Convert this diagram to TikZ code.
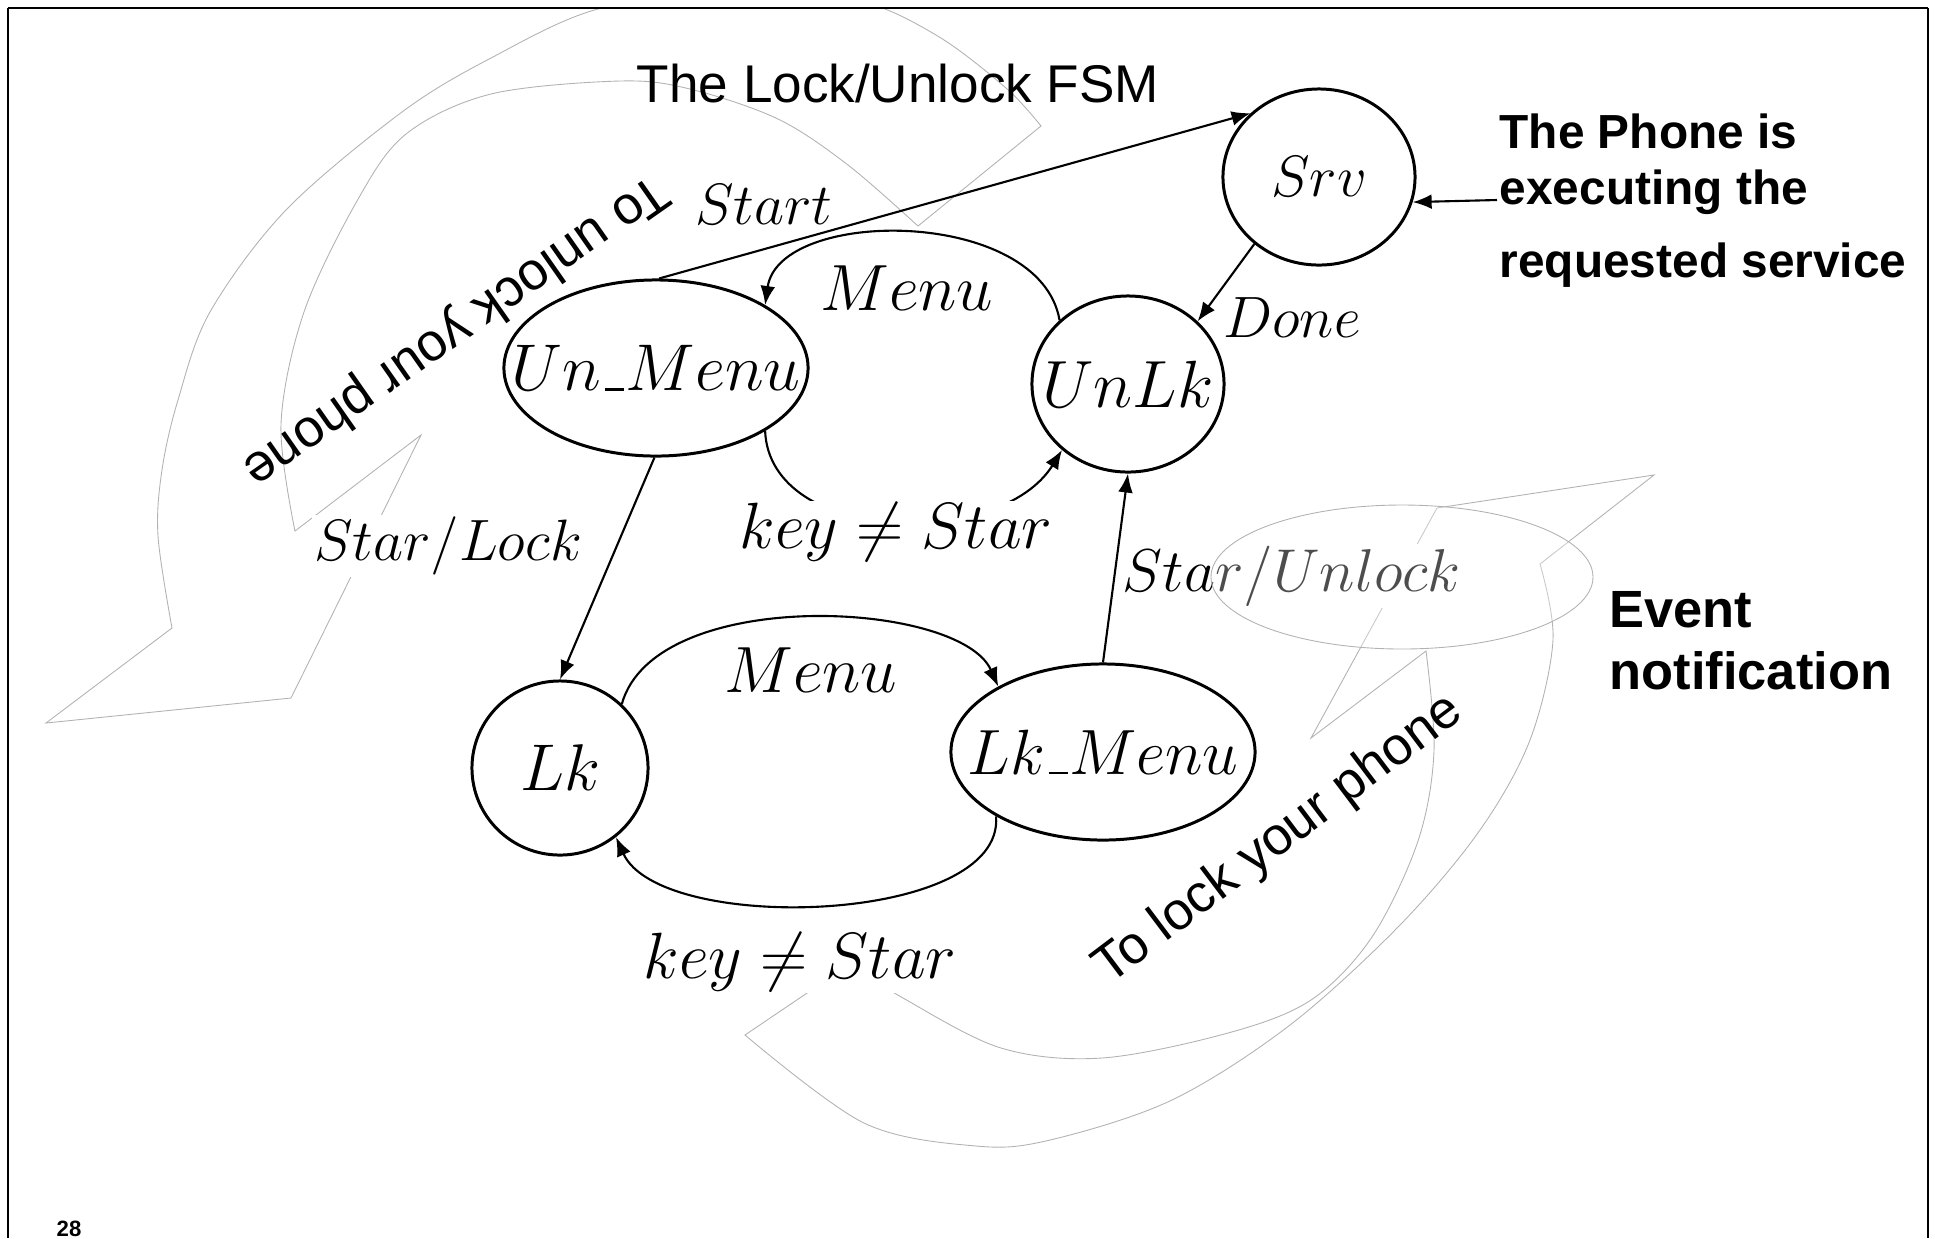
\documentclass[tikz,border=0pt]{standalone}
\usepackage{fix-cm}
\usepackage[no-math]{fontspec}
\setmainfont{Liberation Sans}
\usetikzlibrary{shapes.geometric,arrows.meta}
\newcommand{\usc}{\kern.06em\vbox{\hrule width.3em height .04em}\kern.02em}
\begin{document}
\begin{tikzpicture}[x=0.01cm,y=-0.01cm,
  st/.style={draw, line width=0.85pt, ellipse, inner sep=0pt},
  tr/.style={line width=0.6pt, -{Latex[length=5.4pt,width=4.2pt]}},
  lbl/.style={inner sep=0.5pt},
  wlbl/.style={inner sep=0.5pt, fill=white},
  deco/.style={draw=black!30, line width=0.25pt},
  fA/.style={font=\fontsize{16.6}{18}\selectfont},
  fB/.style={font=\fontsize{18.6}{20}\selectfont},
  sans/.style={font=\fontsize{15.1}{18}\selectfont},
  boldA/.style={font=\bfseries\fontsize{13.6}{16}\selectfont, anchor=base west, inner sep=0pt},
  boldB/.style={font=\bfseries\fontsize{14.9}{17}\selectfont, anchor=base west, inner sep=0pt},
  frame/.style={line width=0.45pt}
]
\useasboundingbox (0,0) rectangle (1935,1238);

% decorative curved arrows (light grey outlines)
\begin{scope}
\clip (8,9) rectangle (1928,1238);
\draw[deco] plot[smooth, tension=0.55] coordinates {(172,628) (158,536) (162,470) (178,400) (210,312) (286,210) (402,112) (491,58) (598,9) (730,-6) (855,0) (936,35) (1006,88) (1041,126)}
  -- (918,226)
  -- plot[smooth, tension=0.55] coordinates {(918,226) (848,165) (778,119) (690,89) (620,81) (491,94) (406,134) (357,201) (304,312) (281,424) (295,531)}
  -- (421,435) -- (291,698) -- (46,723) -- cycle;
\end{scope}
\draw[deco] plot[smooth, tension=0.55] coordinates {(1540,564) (1553,640) (1530,740) (1480,830) (1400,925) (1290,1025) (1172,1100) (1050,1140) (976,1146) (864,1123) (745,1035)}
  -- (850,964)
  -- plot[smooth, tension=0.55] coordinates {(850,964) (903,998) (1001,1048) (1102,1058) (1228,1033) (1311,1000) (1372,937) (1418,841) (1434,751) (1426,651)}
  -- (1311,738) -- (1437,508) -- (1654,475) -- cycle;

% frame
\draw[line width=0.6pt] (8,8) -- (1928,8);
\draw[frame] (8,8) -- (8,1238);
\draw[frame] (1928,8) -- (1928,1238);

% states
\node[st, minimum width=1.92cm, minimum height=1.76cm,
  label={[name=srvtxt, fA]center:$Srv$}] (srv) at (1319,177) {};
\node[st, minimum width=1.92cm, minimum height=1.76cm,
  label={[name=unlktxt, font=\fontsize{19}{20}\selectfont]center:$UnLk$}] (unlk) at (1128,384) {};
\node[st, minimum width=3.04cm, minimum height=1.76cm,
  label={[name=umtxt, font=\fontsize{18.8}{20}\selectfont]center:$Un\usc Menu$}] (um) at (656,368) {};
\node[st, minimum width=1.76cm, minimum height=1.74cm,
  label={[name=lktxt, font=\fontsize{18.8}{20}\selectfont]center:$Lk$}] (lk) at (560,768) {};
\node[st, minimum width=3.04cm, minimum height=1.76cm,
  label={[name=lkmtxt, font=\fontsize{18.2}{20}\selectfont]center:$Lk\usc Menu$}] (lkm) at (1103,752) {};

% transitions
\draw[tr] (um.88) -- (srv.137);
\draw[tr] (unlk.137) .. controls (1040,207) and (779,207) .. (um.30);
\draw[tr] (um.-30) .. controls (770,545) and (1000,550) .. (unlk.-135);
\draw[tr] (srv.-134) -- (unlk.42);
\draw[tr] (um.-91) -- (lk.90);
\draw[tr] (lk.46) .. controls (655,585) and (960,600) .. (lkm.148);
\draw[tr] (lkm.-149) .. controls (1005,925) and (660,935) .. (lk.-51);
\draw[tr] (lkm.90) -- (unlk.-90);

% transition labels
\node[lbl, fA] (lstart) at (764,205) {$Start$};
\node[lbl, fB] (lmenu1) at (907,288) {$Menu$};
\node[wlbl, fB] (lkey1) at (896,532) {$key\neq Star$};
\node[lbl, fA] (ldone) at (1292,318) {$Done$};
\node[wlbl, fA] (lstarlock) at (448,546) {$Star/Lock$};
\node[lbl, fB] (lmenu2) at (811,670) {$Menu$};
\node[wlbl, fB] (lkey2) at (800,962) {$key\neq Star$};
\node[wlbl, font=\fontsize{17.2}{19}\selectfont] (lstarunlock) at (1292,576) {$Star/Unlock$};
\draw[deco, fill=white, fill opacity=0.3] (1402,577) ellipse [x radius=191, y radius=72];

% texts
\node[sans, anchor=base] (title) at (898,102) {The Lock/Unlock FSM};
\node[sans, rotate=215] (unlocktxt) at (455,330) {To unlock your phone};
\node[sans, rotate=37] (locktxt) at (1279,840) {To lock your phone};

\node[boldA] (ann1) at (1499,148) {The Phone is};
\node[boldA] (ann2) at (1499,204) {executing the};
\node[boldA] (ann3) at (1499,277) {requested service};
\coordinate (annstart) at (1497,200);
\draw[tr] (annstart) -- (srv.-15);

\node[boldB] (ev1) at (1609,627) {Event};
\node[boldB] (ev2) at (1609,689) {notification};

\node[font=\bfseries\fontsize{6.3}{7}\selectfont, anchor=base west, inner sep=0pt] (pg) at (56,1236) {28};
\end{tikzpicture}
\end{document}
